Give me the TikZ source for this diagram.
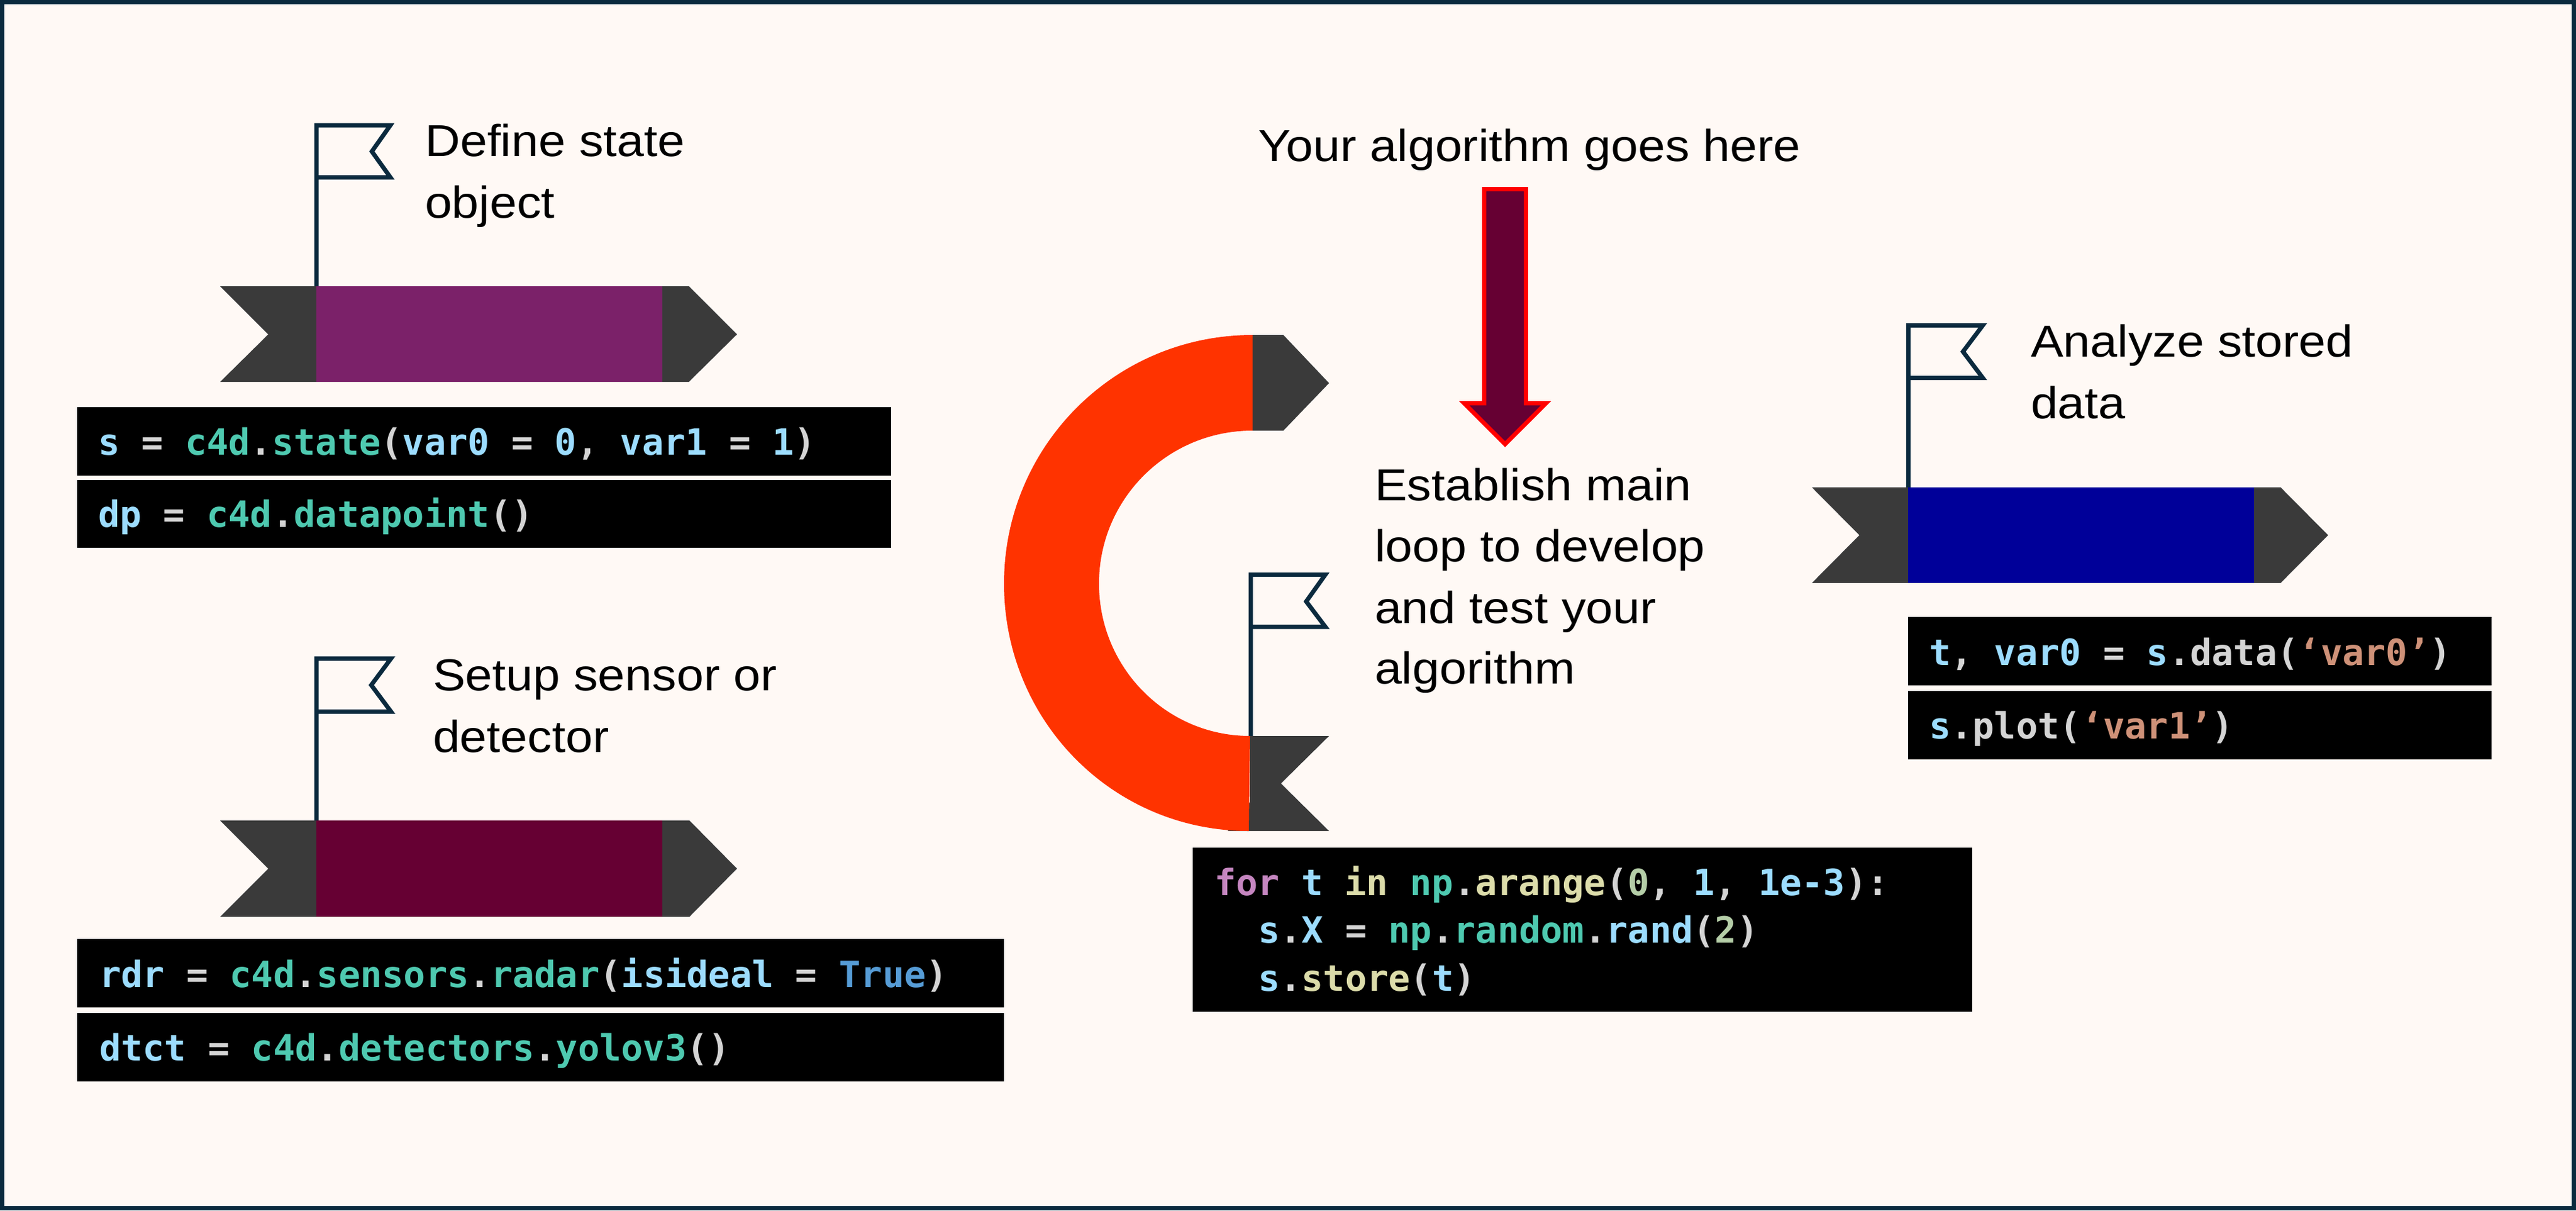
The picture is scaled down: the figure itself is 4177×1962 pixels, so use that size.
\documentclass[tikz,border=0pt]{standalone}
\usepackage{fontspec}
\setmainfont{Liberation Sans}[FakeStretch=1.09]
\newfontfamily\codefont{DejaVu Sans Mono}[BoldFont={DejaVu Sans Mono Bold}]
\definecolor{pagebg}{HTML}{FFF9F5}
\definecolor{edgeblue}{HTML}{0B2A3E}
\definecolor{ribbondark}{HTML}{3A3A3A}
\definecolor{purplebar}{HTML}{7B2169}
\definecolor{maroonbar}{HTML}{660033}
\definecolor{bluebar}{HTML}{000099}
\definecolor{ringred}{HTML}{FF3300}
\definecolor{cvar}{HTML}{9CDCFE}
\definecolor{ctype}{HTML}{4EC9B0}
\definecolor{cpun}{HTML}{D4D4D4}
\definecolor{cfun}{HTML}{DCDCAA}
\definecolor{ckey}{HTML}{C586C0}
\definecolor{cnum}{HTML}{B5CEA8}
\definecolor{cbool}{HTML}{569CD6}
\definecolor{cstr}{HTML}{CE9178}
\newcommand\cV[1]{\textcolor{cvar}{#1}}
\newcommand\cT[1]{\textcolor{ctype}{#1}}
\newcommand\cP[1]{\textcolor{cpun}{#1}}
\newcommand\cF[1]{\textcolor{cfun}{#1}}
\newcommand\cK[1]{\textcolor{ckey}{#1}}
\newcommand\cN[1]{\textcolor{cnum}{#1}}
\newcommand\cB[1]{\textcolor{cbool}{#1}}
\newcommand\cS[1]{\textcolor{cstr}{#1}}
% flag: pole x, pole bottom, top, flag bottom, tip x, notch x, notch y
\newcommand\flagmark[7]{\draw[flagline] (#1,#2) -- (#1,#3) -- (#5,#3) -- (#6,#7) -- (#5,#4) -- (#1,#4);}
% ribbon: left x, top, bottom, notch x, mid y, bar left, bar right, right shoulder, tip x
\newcommand\ribbon[9]{\fill[ribbondark] (#1,#2) -- (#8,#2) -- (#9,#5) -- (#8,#3) -- (#1,#3) -- (#4,#5) -- cycle;
  \fill[ribboncolor] (#6,#2) rectangle (#7,#3);}
\tikzset{
  flagline/.style={draw=edgeblue,line width=7pt,miter limit=10},
  caption/.style={inner sep=0pt,outer sep=0pt,anchor=base west,text=black,font=\fontsize{72.5}{100}\selectfont},
  codeline/.style={inner sep=0pt,outer sep=0pt,anchor=base west,font=\codefont\bfseries\fontsize{58.6}{77.5}\selectfont},
  codebox/.style={fill=black},
}
\begin{document}
\begin{tikzpicture}[x=1pt,y=-1pt]
\useasboundingbox (0,0) rectangle (4177,1962);
\fill[pagebg] (0,0) rectangle (4177,1962);
\draw[edgeblue,line width=7pt] (3.5,3.5) rectangle (4173.5,1958.5);

% flags
\flagmark{513}{464}{203}{287.5}{633}{603}{245.5}
\flagmark{513}{1330}{1067.5}{1153.5}{634}{602}{1110.5}
\flagmark{2028}{1193}{931.5}{1016}{2149}{2118}{975}
\flagmark{3094.4}{790}{527.5}{612.5}{3215}{3183}{570}

% ribbons
\colorlet{ribboncolor}{purplebar}
\ribbon{357}{464}{619}{435}{542}{513}{1074}{1117}{1195}
\colorlet{ribboncolor}{maroonbar}
\ribbon{357}{1330}{1486}{435}{1408}{513}{1074}{1118}{1195}
\colorlet{ribboncolor}{bluebar}
\ribbon{2938}{790}{945}{3015}{867.5}{3093.6}{3655}{3698}{3775}

% ring
\fill[ribbondark] (2031,543) -- (2081,543) -- (2155,621) -- (2081,698) -- (2031,698) -- cycle;
\fill[ribbondark] (1991,1347) -- (2155,1347) -- (2077,1270) -- (2155,1193) -- (2027,1193) -- (2027,1300) -- cycle;
\fill[ringred] (2031,543)
  .. controls (1808,543) and (1628,723) .. (1628,946)
  .. controls (1628,1168) and (1804,1347) .. (2025,1347)
  -- (2027,1193)
  .. controls (1891,1193) and (1782,1082) .. (1782,946)
  .. controls (1782,809) and (1893,698) .. (2031,698) -- cycle;

% arrow
\draw[draw=red,fill=maroonbar,line width=7pt,miter limit=10]
  (2406.7,306.5) -- (2474.3,306.5) -- (2474.3,653.5) -- (2507,653.5) -- (2440.5,720) -- (2374,653.5) -- (2406.7,653.5) -- cycle;

% code boxes
\fill[codebox] (125,660) rectangle (1445,771);
\fill[codebox] (125,778) rectangle (1445,888);
\fill[codebox] (125,1522) rectangle (1627.5,1633);
\fill[codebox] (125,1642) rectangle (1627.5,1753);
\fill[codebox] (1933.6,1374) rectangle (3198,1640);
\fill[codebox] (3094,1000) rectangle (4040,1111);
\fill[codebox] (3094,1120) rectangle (4040,1231);

% captions
\node[caption] (capState) at (689,253.5) {Define state};
\node[caption] (capState2) at (689,353) {object};
\node[caption] (capSensor) at (702,1119) {Setup sensor or};
\node[caption] (capSensor2) at (702,1219) {detector};
\node[caption] (capAlgo) at (2040,261) {Your algorithm goes here};
\node[caption] (capLoopA) at (2229,811) {Establish main};
\node[caption] (capLoopB) at (2229,910) {loop to develop};
\node[caption] (capLoopC) at (2229,1010) {and test your};
\node[caption] (capLoopD) at (2229,1108.5) {algorithm};
\node[caption] (capData) at (3293,578.5) {Analyze stored};
\node[caption] (capData2) at (3293,678) {data};

% code
\node[codeline] (codeA) at (159,737) {\cV{s} \cP{=} \cT{c4d}\cP{.}\cT{state}\cP{(}\cV{var0} \cP{=} \cV{0}\cP{,} \cV{var1} \cP{=} \cV{1}\cP{)}};
\node[codeline] (codeB) at (159,854) {\cV{dp} \cP{=} \cT{c4d}\cP{.}\cT{datapoint}\cP{()}};
\node[codeline] (codeC) at (161,1600) {\cV{rdr} \cP{=} \cT{c4d}\cP{.}\cT{sensors}\cP{.}\cT{radar}\cP{(}\cV{isideal} \cP{=} \cB{True}\cP{)}};
\node[codeline] (codeD) at (161,1719) {\cV{dtct} \cP{=} \cT{c4d}\cP{.}\cT{detectors}\cP{.}\cT{yolov3}\cP{()}};
\node[codeline] (codeE) at (1969,1451) {\cK{for} \cV{t} \cF{in} \cT{np}\cP{.}\cF{arange}\cP{(}\cN{0}\cP{,} \cV{1}\cP{,} \cV{1e-3}\cP{):}};
\node[codeline] (codeF) at (2040,1528) {\cV{s}\cP{.}\cV{X} \cP{=} \cT{np}\cP{.}\cT{random}\cP{.}\cV{rand}\cP{(}\cN{2}\cP{)}};
\node[codeline] (codeG) at (2040,1606) {\cV{s}\cP{.}\cF{store}\cP{(}\cV{t}\cP{)}};
\node[codeline] (codeH) at (3128,1078) {\cV{t}\cP{,} \cV{var0} \cP{=} \cV{s}\cP{.}\cP{data(}\cS{‘var0’}\cP{)}};
\node[codeline] (codeI) at (3128,1197) {\cV{s}\cP{.}\cP{plot(}\cS{‘var1’}\cP{)}};
\end{tikzpicture}
\end{document}
